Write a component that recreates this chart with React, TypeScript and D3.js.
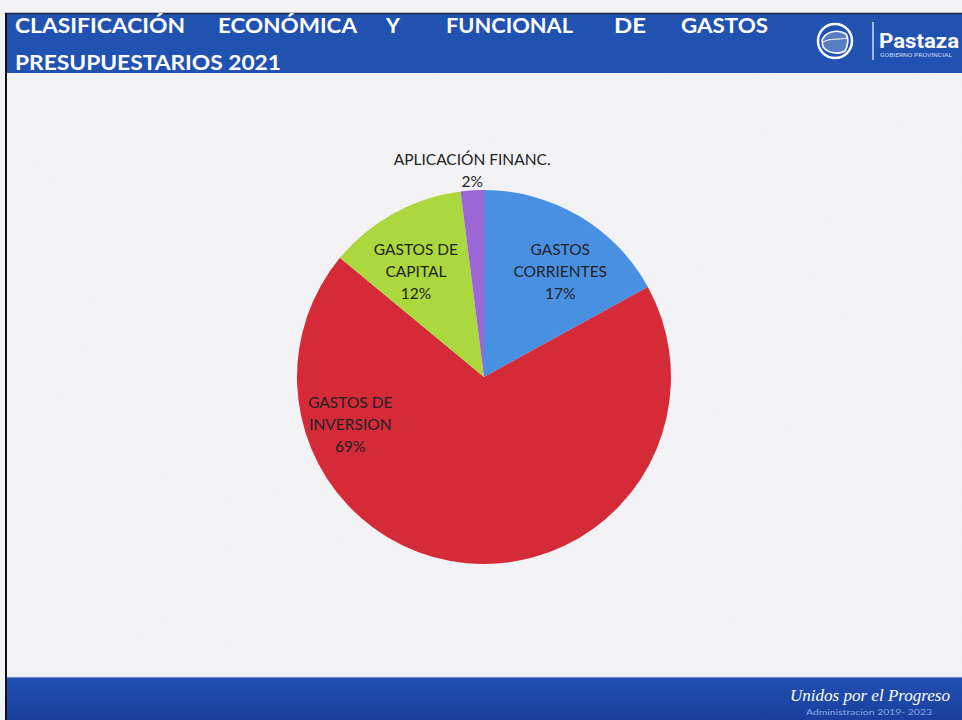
import React from "react";
import * as d3 from "d3";

const categories = ["GASTOS CORRIENTES", "GASTOS DE INVERSION", "GASTOS DE CAPITAL", "APLICACIÓN FINANC."];
const values = [17, 69, 12, 2];
const labelLines = [["GASTOS", "CORRIENTES"], ["GASTOS DE", "INVERSION"], ["GASTOS DE", "CAPITAL"], ["APLICACIÓN FINANC."]];
const colors = ["#4a90e2", "#d52a38", "#abd83e", "#9d66d6"];
const titleLine1 = ["CLASIFICACIÓN", "ECONÓMICA", "Y", "FUNCIONAL", "DE", "GASTOS"];
const titleLine2 = "PRESUPUESTARIOS 2021";

// layout only
const W = 962, H = 720;
const cx = 484, cy = 377, R = 187;
const labelPlace = [
  { angle: 35.9, r: 130 },
  { angle: 250.3, r: 142 },
  { angle: -33, r: 125 },
  { angle: -3.3, r: 206 },
];
const wordX = [15, 218, 386, 446, 614, 681];
const wordW = [170, 139, 14, 127, 32, 87];

export default function App() {
  const pie = d3.pie<number>().sort(null).value((d) => d)(values);
  const arc = d3.arc<d3.PieArcDatum<number>>().innerRadius(0).outerRadius(R);
  const total = d3.sum(values);
  const toRad = (a: number) => (a * Math.PI) / 180;

  return (
    <svg width={W} height={H} style={{ position: "absolute", left: 0, top: 0, display: "block" }}>
      <defs>
        <filter id="grain" x="0" y="0" width="100%" height="100%">
          <feTurbulence type="fractalNoise" baseFrequency="0.9" numOctaves="2" seed="3" />
          <feColorMatrix type="matrix" values="0 0 0 0 0.5  0 0 0 0 0.5  0 0 0 0 0.6  0 0 0 0.08 0" />
        </filter>
        <linearGradient id="footG" x1="0" y1="0" x2="0" y2="1">
          <stop offset="0" stopColor="#2150b4" />
          <stop offset="1" stopColor="#1a3f9c" />
        </linearGradient>
      </defs>
      <rect x={0} y={0} width={W} height={H} fill="#f5f5f7" />
      <rect x={0} y={0} width={W} height={H} filter="url(#grain)" />

      {/* header */}
      <rect x={5} y={13} width={W - 5} height={60} fill="#2152b2" />
      <line x1={5} x2={W} y1={13.5} y2={13.5} stroke="#1a2340" strokeWidth={1.5} />
      <g fill="#ffffff" fontFamily="Lato, 'Open Sans', sans-serif" fontWeight={700} fontSize={21}>
        {titleLine1.map((w, i) => (
          <text key={w} x={wordX[i]} y={33} textLength={wordW[i]} lengthAdjust="spacingAndGlyphs">{w}</text>
        ))}
        <text x={15} y={70} textLength={266} lengthAdjust="spacingAndGlyphs">{titleLine2}</text>
      </g>

      {/* logo */}
      <g stroke="#ffffff" fill="none">
        <circle cx={835} cy={41} r={17} strokeWidth={2.5} />
        <path d="M822,40 C826,31 838,29 846,34 C849,38 848,46 845,51 C838,55 828,53 823,47 Z" strokeWidth={1.6} fill="rgba(255,255,255,0.25)" />
        <path d="M823,42 C830,38 838,40 847,38" strokeWidth={1} />
        <line x1={873} x2={873} y1={22} y2={60} strokeWidth={1.2} />
      </g>
      <text x={879} y={48} fill="#fff" fontFamily="Roboto, 'Open Sans', sans-serif" fontWeight={700} fontSize={20} textLength={80} lengthAdjust="spacingAndGlyphs">Pastaza</text>
      <text x={880} y={57} fill="#c9d6f2" fontFamily="Roboto, sans-serif" fontSize={5} textLength={72} lengthAdjust="spacingAndGlyphs">GOBIERNO PROVINCIAL</text>

      {/* pie */}
      <g transform={`translate(${cx},${cy})`}>
        {pie.map((p, i) => (
          <path key={categories[i]} d={arc(p) || ""} fill={colors[i]} />
        ))}
      </g>
      <g fill="#222" fontFamily="Lato, 'Open Sans', sans-serif" fontSize={15.5} textAnchor="middle">
        {pie.map((p, i) => {
          const lp = labelPlace[i];
          const x = cx + lp.r * Math.sin(toRad(lp.angle));
          const y = cy - lp.r * Math.cos(toRad(lp.angle));
          const lines = [...labelLines[i], `${Math.round((p.value / total) * 100)}%`];
          const n = lines.length;
          return (
            <text key={categories[i]} x={x} y={y}>
              {lines.map((l, j) => (
                <tspan key={j} x={x} y={y + (j - (n - 1) / 2) * 22 + 5}>{l}</tspan>
              ))}
            </text>
          );
        })}
      </g>

      {/* footer */}
      <rect x={5} y={677} width={W - 5} height={H - 677} fill="url(#footG)" />
      <line x1={5} x2={W} y1={677} y2={677} stroke="#c8d2ea" strokeWidth={1} />
      <text x={790} y={701} fill="#ffffff" fontFamily="'Liberation Serif', serif" fontStyle="italic" fontSize={16} textLength={160} lengthAdjust="spacingAndGlyphs">Unidos por el Progreso</text>
      <text x={806} y={715} fill="#86a9ea" fontFamily="Lato, sans-serif" fontSize={8} textLength={126} lengthAdjust="spacingAndGlyphs">Administracion 2019- 2023</text>

      {/* left frame line */}
      <line x1={6} x2={6} y1={13} y2={H} stroke="#111" strokeWidth={2} />
    </svg>
  );
}
